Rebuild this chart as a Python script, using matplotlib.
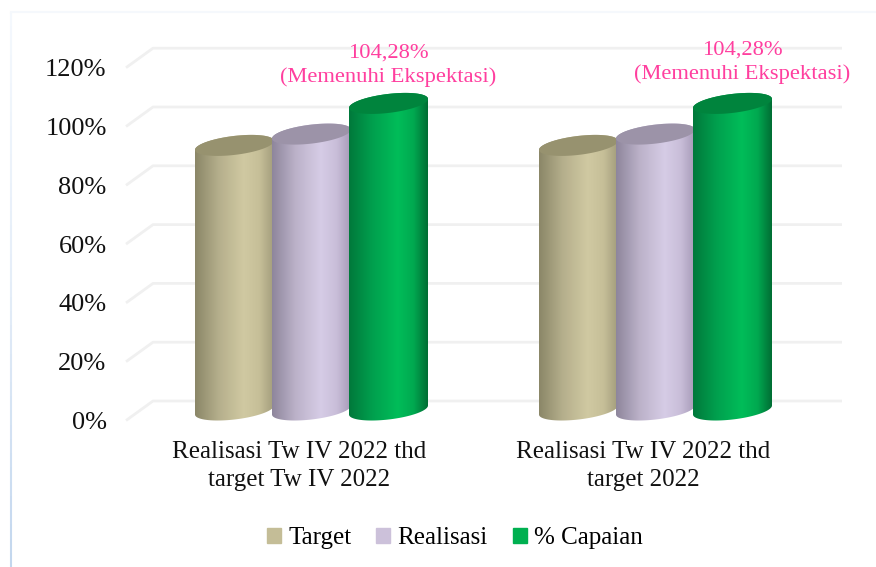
import matplotlib
matplotlib.use('Agg')
import matplotlib.pyplot as plt
import numpy as np
from matplotlib.collections import LineCollection
from matplotlib.colors import LinearSegmentedColormap
from matplotlib.patches import Patch, Polygon

categories = ['Realisasi Tw IV 2022 thd\ntarget Tw IV 2022', 'Realisasi Tw IV 2022 thd\ntarget 2022']
series = ['Target', 'Realisasi', '% Capaian']
target = [90, 90]
realisasi = [93.85, 93.85]
capaian = [104.28, 104.28]
notes = ['104,28%\n(Memenuhi Ekspektasi)', '104,28%\n(Memenuhi Ekspektasi)']
yticks = [0, 20, 40, 60, 80, 100, 120]

values = [target, realisasi, capaian]
legend_colors = ['#c4bd97', '#ccc1da', '#00b050']
stops = [0, 0.3, 0.62, 0.82, 1]
shades = [['#8b8768', '#b5af8c', '#d0c9a2', '#c6bf98', '#a39d7c'],
          ['#8e869c', '#bcb2c9', '#d6cce6', '#c9bed9', '#a79bb8'],
          ['#00793b', '#00a04e', '#00bd59', '#00a950', '#006e34']]
tops = ['#97926f', '#9c93a8', '#00843d']

W, H = 876, 567
plt.rcParams['font.family'] = ['Liberation Serif', 'DejaVu Serif']

fig = plt.figure(figsize=(W / 100, H / 100), dpi=100)
left, right, base, top = 126, 842, 420.5, 47
ax = fig.add_axes([left / W, 1 - base / H, (right - left) / W, (base - top) / H])

# scale: 344 px per category, 2.94 px per percent
px_x = 344
px_y = 2.94
xlim = ((left - 299) / px_x, (right - 299) / px_x)
ylim = (0, (base - top) / px_y)

# back wall gridlines with the short diagonal on the left
depth_x = 27 / px_x
depth_y = 19.5 / px_y
for v in yticks:
    ax.plot([xlim[0], xlim[0] + depth_x, xlim[1]], [v, v + depth_y, v + depth_y],
            color='#f0f0f0', lw=2, zorder=1, clip_on=False, solid_capstyle='butt')

# cylinders
bar_w = 77 / px_x
half = 39.5 / px_x
tilt = 4.5 / px_y
minor = 9.5 / px_y
floor = 10.5 / px_y
t = np.linspace(0, np.pi, 60)
for g in range(len(categories)):
    for s in range(len(series)):
        cx = g + 12.5 / px_x + (s - 1) * bar_w
        ytop = floor + values[s][g]
        ex = cx + half * np.cos(t)
        up = minor * np.sin(t) + tilt * np.cos(t)
        low = -minor * np.sin(t) + tilt * np.cos(t)
        body = np.column_stack([np.r_[ex, ex[::-1]], np.r_[ytop + up, (floor + low)[::-1]]])
        cmap = LinearSegmentedColormap.from_list('c', list(zip(stops, shades[s])))
        im = ax.imshow(np.linspace(0, 1, 200)[None, :], cmap=cmap, aspect='auto', zorder=2 + s,
                       extent=[cx - half, cx + half, floor - 3 * minor, ytop + 3 * minor])
        im.set_clip_path(Polygon(body, transform=ax.transData))
        cap = np.column_stack([np.r_[ex, ex[::-1]], np.r_[ytop + up, (ytop + low)[::-1]]])
        ax.add_patch(Polygon(cap, fc=tops[s], ec='none', zorder=2 + s))

ax.set_xlim(xlim)
ax.set_ylim(ylim)

# pink notes above the green cylinders
ax.text(89 / px_x, 120.7, notes[0], color='#ff3f9f', fontsize=16.2, ha='center', va='center',
        linespacing=1.32, zorder=8)
ax.text(1 + 99 / px_x, 122, notes[1], color='#ff3f9f', fontsize=16.2, ha='center', va='center',
        linespacing=1.32, zorder=8, clip_on=False)

ax.set_xticks(range(len(categories)))
ax.set_xticklabels(categories, fontsize=18, color='#111111', linespacing=1.36)
ax.set_yticks(yticks)
ax.set_yticklabels([f'{v}%' for v in yticks], fontsize=19, color='#111111')
ax.tick_params(length=0)
ax.tick_params(axis='x', pad=15)
ax.tick_params(axis='y', pad=14)
for sp in ax.spines.values():
    sp.set_visible(False)

handles = [Patch(color=c, label=n) for c, n in zip(legend_colors, series)]
fig.legend(handles=handles, ncol=3, frameon=False, fontsize=18, loc='center',
           bbox_to_anchor=(455 / W, 1 - 538 / H), handlelength=0.55, handleheight=0.55,
           handletextpad=0.3, columnspacing=1.0)

# remains of the chart border, fading out towards the top
ys = np.linspace(1 - 12 / H, 0, 40)
segs = [[(11 / W, ys[i]), (11 / W, ys[i + 1])] for i in range(39)]
fade = LinearSegmentedColormap.from_list('f', ['#f4f8fd', '#e4edf8', '#c3d7ee'])(np.linspace(0, 1, 39))
fig.add_artist(LineCollection(segs, colors=fade, linewidths=1.5, transform=fig.transFigure))
fig.add_artist(plt.Line2D([11 / W, 1], [1 - 12 / H, 1 - 12 / H], color='#f5f8fc', lw=1.5))

fig.savefig('out.png', dpi=100)
